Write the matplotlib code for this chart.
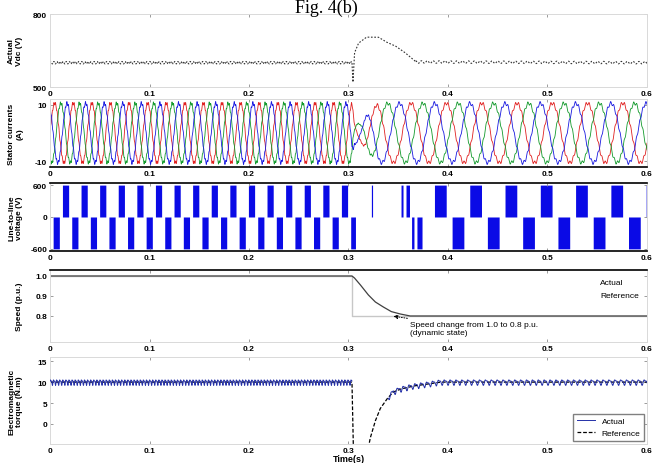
import numpy as np
import matplotlib
matplotlib.use("Agg")
import matplotlib.pyplot as plt

plt.rcParams["font.family"] = ["Liberation Sans", "DejaVu Sans"]

# ---------------- time axis ----------------
t_ticks = [0, 0.1, 0.2, 0.3, 0.4, 0.5, 0.6]
t_ticklabels = ["0", "0.1", "0.2", "0.3", "0.4", "0.5", "0.6"]
t_step = 0.3035                     # speed command change instant (s)

# fundamental frequency profile of the drive (Hz)
freq_t = [0.0, 0.3035, 0.3300, 0.6]
freq_hz = [53.5, 53.5, 28.2, 28.2]

# ---------------- DC-link voltage ----------------
vdc_t = [0.0, 0.3035, 0.3045, 0.306, 0.310, 0.318, 0.330, 0.338, 0.347, 0.356, 0.361, 0.368, 0.6]
vdc_v = [600, 600, 520, 640, 680, 705, 705, 685, 669, 644, 627, 603, 600]
vdc_ripple = 5.0
vdc_ticks = [500, 800]

# ---------------- stator currents ----------------
cur_env_t = [0.0, 0.3035, 0.3060, 0.3120, 0.3180, 0.3300, 0.6]
cur_env_a = [10.5, 10.5, 4.0, 3.0, 6.0, 10.5, 10.5]
cur_colors = ["#e02020", "#139a2c", "#1a1ae0"]
cur_ticks = [-10, 10]

# ---------------- six-step line voltage ----------------
v_line = 600
block_start_before = 0.0125         # first positive block, before the change
block_start_after = 0.3864          # first positive block, after the change
pre_end = 0.3070
post_begin = 0.3840
pulse_start = [0.3230, 0.3528, 0.3578, 0.3634, 0.3688]
pulse_end = [0.3242, 0.3548, 0.3613, 0.3658, 0.3739]
pulse_level = [1, 1, 1, -1, -1]
vab_ticks = [-600, 0, 600]

# ---------------- rotor speed ----------------
spd_t = [0.0, 0.3035, 0.306, 0.312, 0.320, 0.327, 0.335, 0.343, 0.352, 0.362, 0.6]
spd_v = [1.0, 1.0, 0.99, 0.955, 0.905, 0.87, 0.845, 0.822, 0.81, 0.80, 0.80]
spd_ref_t = [0.0, 0.3035, 0.3035, 0.6]
spd_ref_v = [1.0, 1.0, 0.8, 0.8]
spd_ticks = [0.8, 0.9, 1.0]

# ---------------- electromagnetic torque ----------------
te_t = [0.0, 0.3035, 0.3050, 0.3180, 0.3216, 0.3266, 0.3317, 0.3384, 0.3447,
        0.3518, 0.3648, 0.3789, 0.3920, 0.6]
te_v = [10, 10, -8, -8, -3.6, 0.5, 3.6, 5.9, 7.6, 8.3, 9.05, 9.5, 10, 10]
te_ripple = [0.55, 0.25]
te_ticks = [0, 5, 10, 15]

# ---------------- signal construction ----------------
t = np.linspace(0, 0.6, 120001)
dt = t[1] - t[0]
theta = 2 * np.pi * np.cumsum(np.interp(t, freq_t, freq_hz)) * dt
transient = (t > t_step) & (t < 0.368)

vdc = np.interp(t, vdc_t, vdc_v) + np.where(transient, 0, vdc_ripple * np.sin(6 * theta))

env = np.interp(t, cur_env_t, cur_env_a)
currents = [env * (np.sin(theta - k * 2 * np.pi / 3) + 0.06 * np.sin(11 * theta + k))
            for k in range(3)]


def six_step(ph):
    m = np.mod(ph, 2 * np.pi)
    return np.where(m < 2 * np.pi / 3, 1.0,
                    np.where((m >= np.pi) & (m < 5 * np.pi / 3), -1.0, 0.0))


vab = np.zeros_like(t)
pre = t < pre_end
post = t >= post_begin
vab[pre] = six_step(2 * np.pi * freq_hz[0] * (t[pre] - block_start_before))
vab[post] = six_step(2 * np.pi * freq_hz[-1] * (t[post] - block_start_after))
for a, b, lv in zip(pulse_start, pulse_end, pulse_level):
    vab[(t >= a) & (t < b)] = lv
vab *= v_line

te_ref = np.interp(t, te_t, te_v)
te_act = te_ref + te_ripple[0] * np.sin(6 * theta) + te_ripple[1] * np.sin(12 * theta + 1.0)
te_act[(t > t_step) & (t < 0.340)] = np.nan

# ---------------- figure ----------------
fig = plt.figure(figsize=(6.52, 4.64), dpi=100)
fig.text(0.5, 1 - 13 / 464, "Fig. 4(b)", ha="center", va="baseline",
         family=["Liberation Serif", "DejaVu Serif"], fontsize=13)

L, W = 0.0767, 0.9156
boxes = [
    [L, 0.8103, W, 0.1573],
    [L, 0.6379, W, 0.1466],
    [L, 0.4569, W, 0.1466],
    [L, 0.2608, W, 0.1552],
    [L, 0.0409, W, 0.1875],
]
axes = [fig.add_axes(b) for b in boxes]

tick_font = dict(fontsize=6, fontweight="bold")
for ax in axes:
    ax.set_xlim(0, 0.6)
    ax.set_xticks(t_ticks)
    ax.set_xticklabels(t_ticklabels, **tick_font)
    ax.tick_params(direction="in", length=2.5, width=0.6, colors="0.55",
                   labelcolor="black", top=True, right=True, pad=2)
    for s in ax.spines.values():
        s.set_color("0.85")
        s.set_linewidth(0.7)

label_kw = dict(fontsize=6, fontweight="bold")

# DC-link voltage
ax = axes[0]
ax.plot(t, vdc, color="0.2", lw=0.8, ls=(0, (1.5, 1.5)))
ax.set_ylim(500, 800)
ax.set_yticks(vdc_ticks)
ax.set_yticklabels([str(v) for v in vdc_ticks], **tick_font)
ax.set_ylabel("Actual\nVdc (V)", **label_kw)

# stator currents
ax = axes[1]
for i, c in zip(currents, cur_colors):
    ax.plot(t, i, color=c, lw=0.6)
ax.set_ylim(-12, 12)
ax.set_yticks(cur_ticks)
ax.set_yticklabels([str(v) for v in cur_ticks], **tick_font)
ax.set_ylabel("Stator currents\n(A)", **label_kw)
ax.spines["bottom"].set_color("black")
ax.spines["bottom"].set_linewidth(1.2)

# line voltage
ax = axes[2]
ax.fill_between(t, 0, vab, color="#0a0ae6", lw=0)
ax.set_ylim(-640, 640)
ax.set_yticks(vab_ticks)
ax.set_yticklabels([str(v) for v in vab_ticks], **tick_font)
ax.set_ylabel("Line-to-line\nvoltage (V)", **label_kw)
for side in ("top", "bottom"):
    ax.spines[side].set_color("black")
    ax.spines[side].set_linewidth(1.2)

# speed
ax = axes[3]
ax.plot(spd_ref_t, spd_ref_v, color="0.78", lw=1.0, label="Reference")
ax.plot(spd_t, spd_v, color="0.25", lw=0.9, label="Actual")
ax.set_ylim(0.67, 1.03)
ax.set_yticks(spd_ticks)
ax.set_yticklabels(["%.1f" % v for v in spd_ticks], **tick_font)
ax.set_ylabel("Speed (p.u.)", **label_kw)
ax.spines["top"].set_color("black")
ax.spines["top"].set_linewidth(1.2)
h, lab = ax.get_legend_handles_labels()
ax.legend(h[::-1], lab[::-1], loc="upper right", frameon=False, handlelength=0,
          handletextpad=0, fontsize=6, borderaxespad=0.6, labelspacing=0.6)
ax.annotate("Speed change from 1.0 to 0.8 p.u.\n(dynamic state)",
            xy=(0.3437, 0.80), xytext=(0.362, 0.775),
            fontsize=6, ha="left", va="top",
            arrowprops=dict(arrowstyle="-|>", color="black", lw=0.7, ls=":",
                            shrinkA=0, shrinkB=1, mutation_scale=6))

# torque
ax = axes[4]
ax.plot(t, te_ref, color="black", lw=0.9, ls=(0, (3, 1.5)), label="Reference", zorder=2)
ax.plot(t, te_act, color="#2430a8", lw=0.7, label="Actual", zorder=3)
ax.set_ylim(-4.8, 16)
ax.set_yticks(te_ticks)
ax.set_yticklabels([str(v) for v in te_ticks], **tick_font)
ax.set_ylabel("Electromagnetic\ntorque (N.m)", **label_kw)
h, lab = ax.get_legend_handles_labels()
ax.legend(h[::-1], lab[::-1], loc="lower right", fontsize=6, fancybox=False,
          edgecolor="0.5", framealpha=1, handlelength=2.2, borderaxespad=0.4)
ax.set_xlabel("Time(s)", fontsize=6.5, fontweight="bold", labelpad=0)

for ax in axes:
    ax.yaxis.set_label_coords(-0.045, 0.5)

fig.savefig("out.png", dpi=100)
